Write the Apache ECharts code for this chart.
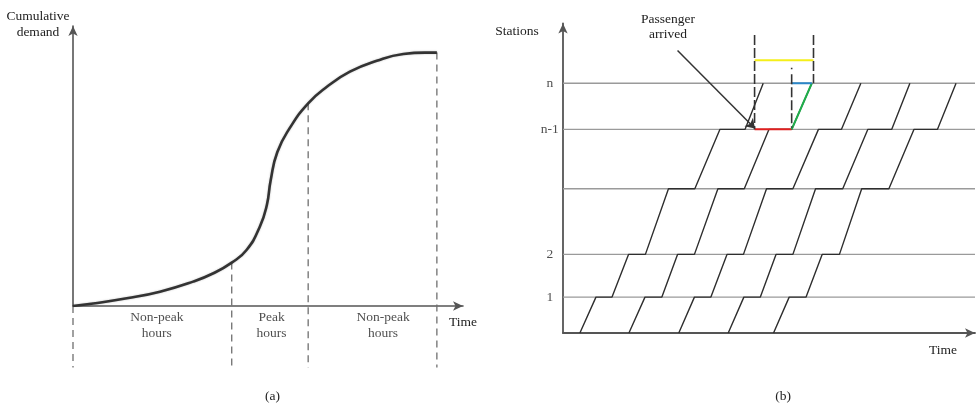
<!DOCTYPE html>
<html>
<head>
<meta charset="utf-8">
<script src="https://cdn.jsdelivr.net/npm/echarts@6/dist/echarts.min.js"></script>
<style>
html,body{margin:0;padding:0;background:#fff;}
#chart{width:976px;height:406px;}
</style>
</head>
<body>
<div id="chart"></div>
<script>
// ---------- Panel (a): cumulative demand ----------
const demandCurve = [
  [0, 0], [0.52, 0.9], [1.38, 2.75], [2.23, 5.1], [3.08, 8.7], [3.6, 11.7], [4.07, 15.5],
  [4.45, 20.0], [4.79, 28.3], [4.97, 36.0], [5.07, 45.0], [5.24, 55.0],
  [5.56, 63.6], [6.03, 72.4], [6.51, 78.3], [7.10, 83.7], [7.79, 87.6],
  [8.47, 90.0], [9.03, 90.5], [9.33, 90.5]
];
const periodBounds = [0, 4.07, 6.03, 9.33];
const periodBoundValues = [0, 15.5, 72.4, 90.5];
const dashBottom = -22;
const periodLabels = ['Non-peak\nhours', 'Peak\nhours', 'Non-peak\nhours'];
const periodLabelX = [2.15, 5.09, 7.95];
const periodLabelY = -6.8;

// ---------- Panel (b): train diagram ----------
const stationNames = ['1', '2', '', 'n-1', 'n'];
const stationLevels = [11.6, 25.4, 46.6, 65.8, 80.7];
const stationLabelX = -3.2;
// each train: [dep base, arr 1, dep 1, arr 2, dep 2, arr 3, dep 3, arr n-1, dep n-1, arr n]
const trainTimes = [
  [4.1, 8.0, 11.9, 15.9, 20.0, 25.6, 32.0, 38.1, 44.2, 48.6],
  [16.0, 19.9, 24.0, 27.8, 31.9, 37.6, 44.0, 50.0, 55.5, 60.4],
  [28.1, 31.9, 35.9, 39.8, 43.8, 49.4, 55.8, 62.0, 67.6, 72.3],
  [40.1, 43.9, 47.9, 51.7, 55.8, 61.3, 67.9, 74.0, 79.8, 84.2],
  [51.1, 54.9, 59.0, 62.9, 67.1, 72.5, 79.1, 85.2, 90.9, 95.4]
];
const passengerArrive = 46.5;
const trainDepart = 55.5;
const trainArriveN = 60.4;
const travelEnd = 60.8;
const travelBarY = 88.1;
const dashTop = 96.3;
const dashDotTop = 85.7;
const pointerFrom = [27.8, 91.3];
const pointerTo = [46.6, 66.1];

const FONT = '"Liberation Serif", "Times New Roman", serif';
const TXT = '#222';

const chart = echarts.init(document.getElementById('chart'));

const series = [];

// Panel (a) curve
series.push({
  type: 'line', xAxisIndex: 0, yAxisIndex: 0,
  data: demandCurve, smooth: 0.5,
  showSymbol: false, symbol: 'none', silent: true,
  lineStyle: { color: '#333', width: 2.6, shadowColor: 'rgba(0,0,0,0.25)', shadowBlur: 2 },
  z: 5
});
// Panel (a) dashed verticals
periodBounds.forEach((b, i) => {
  series.push({
    type: 'line', xAxisIndex: 0, yAxisIndex: 0, clip: false,
    data: [[b, periodBoundValues[i]], [b, dashBottom]],
    symbol: 'none', silent: true,
    lineStyle: { color: '#6f6f6f', width: 1.3, type: [7, 5] },
    z: 3
  });
});
// Panel (a) period labels
series.push({
  type: 'scatter', xAxisIndex: 0, yAxisIndex: 0, clip: false,
  symbolSize: 0, silent: true,
  data: periodLabels.map((t, i) => ({ value: [periodLabelX[i], periodLabelY], name: t })),
  label: {
    show: true, position: 'inside', formatter: p => p.name,
    fontFamily: FONT, fontSize: 13.5, color: TXT, lineHeight: 16, align: 'center'
  }
});

// Panel (b) station lines
stationLevels.forEach(s => {
  series.push({
    type: 'line', xAxisIndex: 1, yAxisIndex: 1,
    data: [[0, s], [100, s]], symbol: 'none', silent: true,
    lineStyle: { color: '#9a9a9a', width: 1.4 }, z: 2
  });
});
// station labels
series.push({
  type: 'scatter', xAxisIndex: 1, yAxisIndex: 1, clip: false,
  symbolSize: 0, silent: true,
  data: stationNames.map((n, i) => ({ value: [stationLabelX, stationLevels[i]], name: n })),
  label: {
    show: true, position: 'inside', formatter: p => p.name,
    fontFamily: FONT, fontSize: 13.5, color: TXT, align: 'center'
  }
});
// train paths
const levels = [0].concat(stationLevels);
trainTimes.forEach(tt => {
  series.push({
    type: 'line', xAxisIndex: 1, yAxisIndex: 1,
    data: tt.map((t, i) => [t, levels[Math.ceil(i / 2)]]),
    symbol: 'none', silent: true,
    lineStyle: { color: '#2e2e2e', width: 1.4 }, z: 4
  });
});
const nm1 = stationLevels[3], nTop = stationLevels[4];
// red waiting segment
series.push({
  type: 'line', xAxisIndex: 1, yAxisIndex: 1,
  data: [[passengerArrive, nm1], [trainDepart, nm1]], symbol: 'none', silent: true,
  lineStyle: { color: '#e02020', width: 2 }, z: 6
});
// green travel segment
series.push({
  type: 'line', xAxisIndex: 1, yAxisIndex: 1,
  data: [[trainDepart, nm1], [trainArriveN, nTop]], symbol: 'none', silent: true,
  lineStyle: { color: '#1fae4b', width: 2 }, z: 6
});
// blue segment
series.push({
  type: 'line', xAxisIndex: 1, yAxisIndex: 1,
  data: [[trainDepart, nTop], [trainArriveN, nTop]], symbol: 'none', silent: true,
  lineStyle: { color: '#2a86c8', width: 2 }, z: 6
});
// yellow total time
series.push({
  type: 'line', xAxisIndex: 1, yAxisIndex: 1,
  data: [[passengerArrive, travelBarY], [travelEnd, travelBarY]], symbol: 'none', silent: true,
  lineStyle: { color: '#f5ef1a', width: 2 }, z: 6
});
// dashed verticals
series.push({
  type: 'line', xAxisIndex: 1, yAxisIndex: 1,
  data: [[passengerArrive, dashTop], [passengerArrive, nm1]], symbol: 'none', silent: true,
  lineStyle: { color: '#333', width: 1.6, type: [10, 3] }, z: 7
});
series.push({
  type: 'line', xAxisIndex: 1, yAxisIndex: 1,
  data: [[travelEnd, dashTop], [travelEnd, nTop]], symbol: 'none', silent: true,
  lineStyle: { color: '#333', width: 1.6, type: [10, 3] }, z: 7
});
series.push({
  type: 'line', xAxisIndex: 1, yAxisIndex: 1,
  data: [[trainDepart, dashDotTop], [trainDepart, nm1]], symbol: 'none', silent: true,
  lineStyle: { color: '#333', width: 1.6, type: [1.5, 5, 10, 3, 10, 3, 10, 3, 10, 3] }, z: 7
});
// pointer arrow
series.push({
  type: 'lines', coordinateSystem: 'cartesian2d', xAxisIndex: 1, yAxisIndex: 1,
  symbol: ['none', 'arrow'], symbolSize: 9, silent: true,
  data: [{ coords: [pointerFrom, pointerTo] }],
  lineStyle: { color: '#333', width: 1.5, opacity: 1 }, z: 8
});

const axisCommon = {
  axisTick: { show: false }, axisLabel: { show: false }, splitLine: { show: false }
};

chart.setOption({
  animation: false,
  backgroundColor: '#fff',
  grid: [
    { left: 73, right: 513, top: 26, bottom: 100 },
    { left: 563, right: 1, top: 23.5, bottom: 73 }
  ],
  xAxis: [
    Object.assign({ type: 'value', gridIndex: 0, min: 0, max: 10,
      axisLine: { show: true, symbol: ['none', 'arrow'], symbolSize: [7, 10], lineStyle: { color: '#555', width: 1.6 } } }, axisCommon),
    Object.assign({ type: 'value', gridIndex: 1, min: 0, max: 100,
      axisLine: { show: true, symbol: ['none', 'arrow'], symbolSize: [7, 10], lineStyle: { color: '#555', width: 1.8 } } }, axisCommon)
  ],
  yAxis: [
    Object.assign({ type: 'value', gridIndex: 0, min: 0, max: 100,
      axisLine: { show: true, symbol: ['none', 'arrow'], symbolSize: [7, 10], lineStyle: { color: '#555', width: 1.6 } } }, axisCommon),
    Object.assign({ type: 'value', gridIndex: 1, min: 0, max: 100,
      axisLine: { show: true, symbol: ['none', 'arrow'], symbolSize: [7, 10], lineStyle: { color: '#555', width: 1.8 } } }, axisCommon)
  ],
  graphic: [
    { type: 'text', x: 38, y: 8, style: { text: 'Cumulative\ndemand', font: '13.5px ' + FONT, fill: TXT, textAlign: 'center', lineHeight: 16 } },
    { type: 'text', x: 463, y: 322, style: { text: 'Time', font: '13.5px ' + FONT, fill: TXT, textAlign: 'center', textVerticalAlign: 'middle' } },
    { type: 'text', x: 272.5, y: 396, style: { text: '(a)', font: '13.5px ' + FONT, fill: TXT, textAlign: 'center', textVerticalAlign: 'middle' } },
    { type: 'text', x: 517, y: 31, style: { text: 'Stations', font: '13.5px ' + FONT, fill: TXT, textAlign: 'center', textVerticalAlign: 'middle' } },
    { type: 'text', x: 668, y: 12, style: { text: 'Passenger\narrived', font: '13.5px ' + FONT, fill: TXT, textAlign: 'center', lineHeight: 15 } },
    { type: 'text', x: 943, y: 350, style: { text: 'Time', font: '13.5px ' + FONT, fill: TXT, textAlign: 'center', textVerticalAlign: 'middle' } },
    { type: 'text', x: 783, y: 396, style: { text: '(b)', font: '13.5px ' + FONT, fill: TXT, textAlign: 'center', textVerticalAlign: 'middle' } }
  ],
  series: series
});
</script>
</body>
</html>
